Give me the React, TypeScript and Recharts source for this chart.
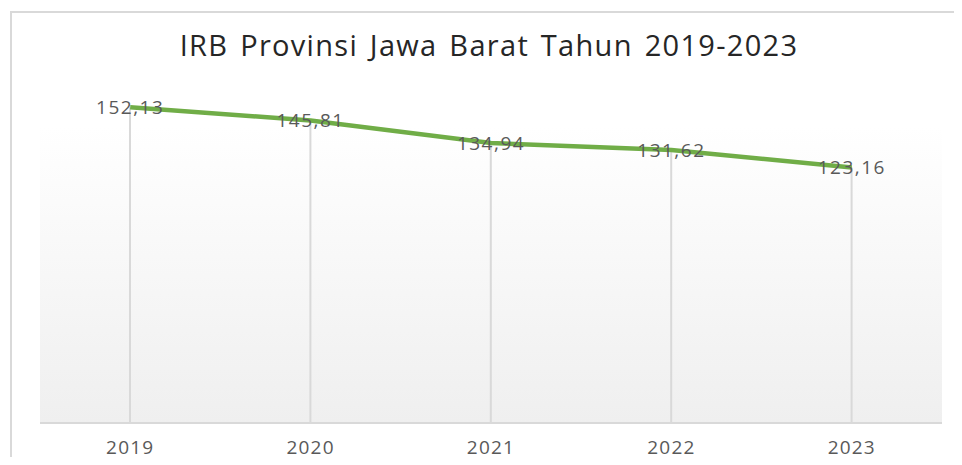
import React from "react";
import {
  ComposedChart,
  Line,
  Bar,
  XAxis,
  YAxis,
  LabelList,
  ReferenceArea,
} from "recharts";

const years = ["2019", "2020", "2021", "2022", "2023"];
const irbValues = [152.13, 145.81, 134.94, 131.62, 123.16];
const title = "IRB Provinsi Jawa Barat Tahun 2019-2023";

const data = years.map((y, i) => ({ year: y, irb: irbValues[i] }));

const fmt = (v: any) => Number(v).toFixed(2).replace(".", ",");

const FONT = "'Open Sans', 'Noto Sans', sans-serif";

export default function App() {
  return (
    <div
      style={{
        margin: -8,
        width: 962,
        height: 465,
        position: "relative",
        overflow: "hidden",
        background: "#ffffff",
      }}
    >
      <div
        style={{
          position: "absolute",
          left: 10,
          top: 11,
          width: 980,
          height: 500,
          border: "2px solid #d9d9d9",
          boxSizing: "border-box",
        }}
      />
      <div
        style={{
          position: "absolute",
          left: 0,
          top: 25,
          width: 978,
          textAlign: "center",
          fontFamily: FONT,
          fontSize: 29,
          color: "#262626",
          letterSpacing: 1.3,
          wordSpacing: 3,
          lineHeight: "40px",
        }}
      >
        {title}
      </div>
      <div style={{ position: "absolute", left: 0, top: 0 }}>
        <ComposedChart
          width={962}
          height={465}
          data={data}
          margin={{ top: 91, right: 20, bottom: 12, left: 40 }}
        >
          <defs>
            <linearGradient id="plotGrad" x1="0" y1="0" x2="0" y2="1">
              <stop offset="0%" stopColor="#ffffff" />
              <stop offset="100%" stopColor="#efefef" />
            </linearGradient>
          </defs>
          <ReferenceArea
            y1={0}
            y2={142.5}
            fill="url(#plotGrad)"
            fillOpacity={1}
            stroke="none"
            ifOverflow="visible"
          />
          <XAxis
            dataKey="year"
            scale="band"
            height={30}
            axisLine={{ stroke: "#d9d9d9", strokeWidth: 2 }}
            tickLine={false}
            tickSize={6}
            tickMargin={12}
            tick={{
              fill: "#595959",
              fontSize: 19,
              fontFamily: FONT,
              letterSpacing: 1.2,
            }}
          />
          <YAxis hide domain={[0, 160]} />
          <Bar
            dataKey="irb"
            barSize={2}
            fill="#d9d9d9"
            isAnimationActive={false}
          />
          <Line
            dataKey="irb"
            stroke="#70ad47"
            strokeWidth={4.5}
            dot={false}
            activeDot={false}
            isAnimationActive={false}
          >
            <LabelList
              dataKey="irb"
              position="center"
              formatter={fmt}
              fill="#595959"
              fontSize={19}
              fontFamily={FONT}
              letterSpacing={1.5}
            />
          </Line>
        </ComposedChart>
      </div>
    </div>
  );
}
